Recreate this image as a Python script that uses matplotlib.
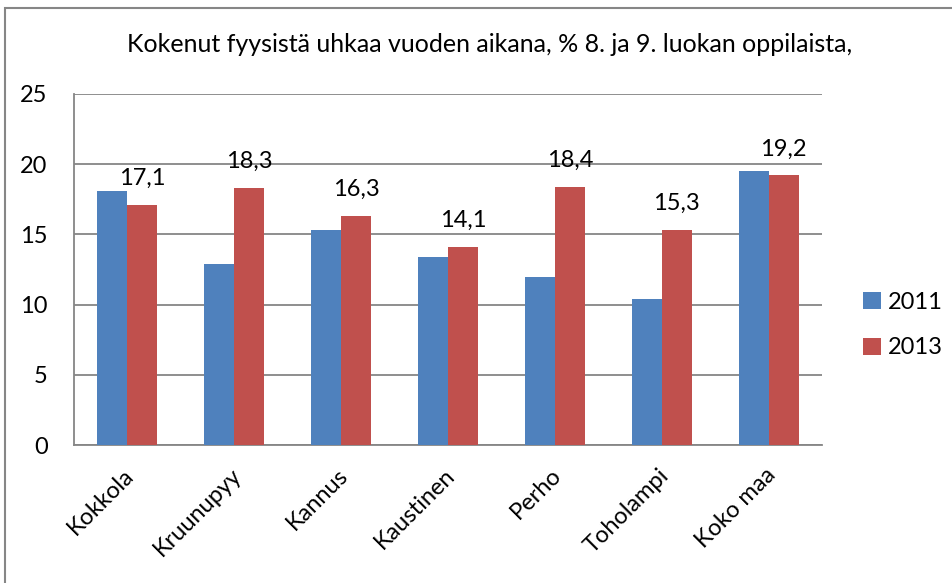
import matplotlib
matplotlib.use("Agg")
import matplotlib.pyplot as plt
import matplotlib.transforms as mtransforms
import numpy as np
from matplotlib.patches import Rectangle

categories = ["Kokkola", "Kruunupyy", "Kannus", "Kaustinen", "Perho", "Toholampi", "Koko maa"]
values_2011 = [18.1, 12.9, 15.3, 13.4, 12.0, 10.4, 19.5]
values_2013 = [17.1, 18.3, 16.3, 14.1, 18.4, 15.3, 19.2]
labels_2013 = ["17,1", "18,3", "16,3", "14,1", "18,4", "15,3", "19,2"]
series_names = ["2011", "2013"]
yticks = [0, 5, 10, 15, 20, 25]
title = "Kokenut fyysistä uhkaa vuoden aikana, % 8. ja 9. luokan oppilaista,"

plt.rcParams['font.family'] = ['Lato', 'DejaVu Sans']

W, H = 953, 583
fig = plt.figure(figsize=(W/100, H/100), dpi=100)
ax = fig.add_axes([74/W, 1-445/H, (822-74)/W, (445-94)/H])

blue = "#4F81BD"
red = "#C0504D"
x = np.arange(len(categories))
bw = 0.281
ax.bar(x - bw/2, values_2011, bw, color=blue, label=series_names[0], zorder=3)
ax.bar(x + bw/2, values_2013, bw, color=red, label=series_names[1], zorder=3)

for xi, v, lab in zip(x, values_2013, labels_2013):
    ax.annotate(lab, (xi + bw/2, v), xytext=(0, 16), textcoords="offset pixels",
                ha="center", va="bottom", fontsize=17, color="black")

ax.set_xlim(-0.5, len(categories) - 0.5)
ax.set_ylim(0, 25)
ax.set_yticks(yticks)
ax.set_yticklabels([str(t) for t in yticks], fontsize=17)
ax.yaxis.grid(True, color="#868686", linewidth=1.3, zorder=0)
ax.tick_params(axis="y", length=0, pad=19)
ax.tick_params(axis="x", length=0, pad=14)
ax.set_xticks(x)
ax.set_xticklabels(categories, rotation=45, ha="right", rotation_mode="anchor", fontsize=17)
shift = mtransforms.ScaledTranslation(-4/100, 0, fig.dpi_scale_trans)
for lbl in ax.get_xticklabels():
    lbl.set_transform(lbl.get_transform() + shift)
for s in ["top", "right"]:
    ax.spines[s].set_visible(False)
for s in ["left", "bottom"]:
    ax.spines[s].set_color("#868686")
    ax.spines[s].set_linewidth(1.3)

fig.text(490/W, 1-45/H, title, ha="center", va="center", fontsize=18)

leg = fig.legend(handles=ax.containers, labels=series_names, loc="center left",
                 bbox_to_anchor=(863/W, 1-325/H), frameon=False, fontsize=17,
                 handlelength=0.75, handleheight=0.75, handletextpad=0.3, labelspacing=1.05,
                 borderaxespad=0, borderpad=0)

fig.patches.append(Rectangle((5/W, -0.1), 1.1, 1.1 - 8/H, transform=fig.transFigure,
                             fill=False, edgecolor="#868686", linewidth=1.5))

fig.savefig("out.png", dpi=100)
